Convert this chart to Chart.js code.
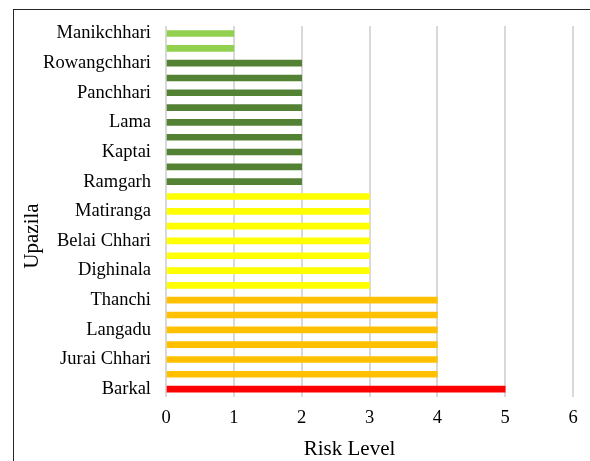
<!DOCTYPE html>
<html>
<head>
<meta charset="utf-8">
<script src="https://cdn.jsdelivr.net/npm/chart.js@4/dist/chart.umd.min.js"></script>
<style>
  html, body { margin: 0; padding: 0; background: #fff; }
  #wrap { position: relative; width: 590px; height: 461px; overflow: hidden; }
  #frame { position: absolute; left: 13px; top: 9px; width: 600px; height: 500px; border: 1.5px solid #262626; box-sizing: border-box; }
  canvas { position: absolute; left: 0; top: 0; }
</style>
</head>
<body>
<div id="wrap">
  <div id="frame"></div>
  <canvas id="riskChart" width="590" height="461"></canvas>
</div>
<script>
// Upazilas, top to bottom (Excel only shows every other label)
const upazilas = [
  "Manikchhari", "", "Rowangchhari", "", "Panchhari", "", "Lama", "",
  "Kaptai", "", "Ramgarh", "", "Matiranga", "", "Belai Chhari", "",
  "Dighinala", "", "Thanchi", "", "Langadu", "", "Jurai Chhari", "", "Barkal"
]
const riskLevels = [
  1, 1, 2, 2, 2, 2, 2, 2, 2, 2, 2, 3, 3, 3, 3, 3, 3, 3, 4, 4, 4, 4, 4, 4, 5
]
const xTicks = [0, 1, 2, 3, 4, 5, 6]

// colour for each risk level
const levelColors = { 1: "#92D050", 2: "#548235", 3: "#FFFF00", 4: "#FFC000", 5: "#FF0000" }

const serif = "'Liberation Serif', 'Times New Roman', serif"

// axis titles drawn where Excel put them (not centred on the plot)
const axisTitles = {
  id: "axisTitles",
  afterDraw(chart) {
    const ctx = chart.ctx
    ctx.save()
    ctx.fillStyle = "#000"
    ctx.font = "21px " + serif
    ctx.textAlign = "center"
    ctx.textBaseline = "middle"
    ctx.fillText("Risk Level", 349.5, 449)
    ctx.translate(32, 236)
    ctx.rotate(-Math.PI / 2)
    ctx.fillText("Upazila", 0, 0)
    ctx.restore()
  },
}

const ctx = document.getElementById("riskChart").getContext("2d")
new Chart(ctx, {
  type: "bar",
  data: {
    labels: upazilas,
    datasets: [
      {
        label: "Risk Level",
        data: riskLevels,
        backgroundColor: riskLevels.map((v) => levelColors[v]),
        barThickness: 6,
        borderWidth: 0,
      },
    ],
  },
  options: {
    indexAxis: "y",
    responsive: false,
    animation: false,
    layout: { padding: { left: 19, right: 17, top: 24.5, bottom: 0 } },
    plugins: {
      legend: { display: false },
      tooltip: { enabled: false },
    },
    scales: {
      x: {
        min: 0,
        max: 6,
        afterBuildTicks: (scale) => {
          scale.ticks = xTicks.map((v) => ({ value: v }))
        },
        afterFit: (scale) => {
          scale.height = 64.5
        },
        grid: { color: "#D9D9D9", lineWidth: 2, drawTicks: false },
        border: { display: false },
        ticks: {
          padding: 11,
          color: "#000",
          font: { family: serif, size: 18.5 },
        },
      },
      y: {
        afterFit: (scale) => {
          scale.width = 147
        },
        grid: { display: false, drawTicks: false },
        border: { display: false },
        ticks: {
          autoSkip: false,
          padding: 15,
          color: "#000",
          font: { family: serif, size: 18.5 },
        },
      },
    },
  },
  plugins: [axisTitles],
})
</script>
</body>
</html>
